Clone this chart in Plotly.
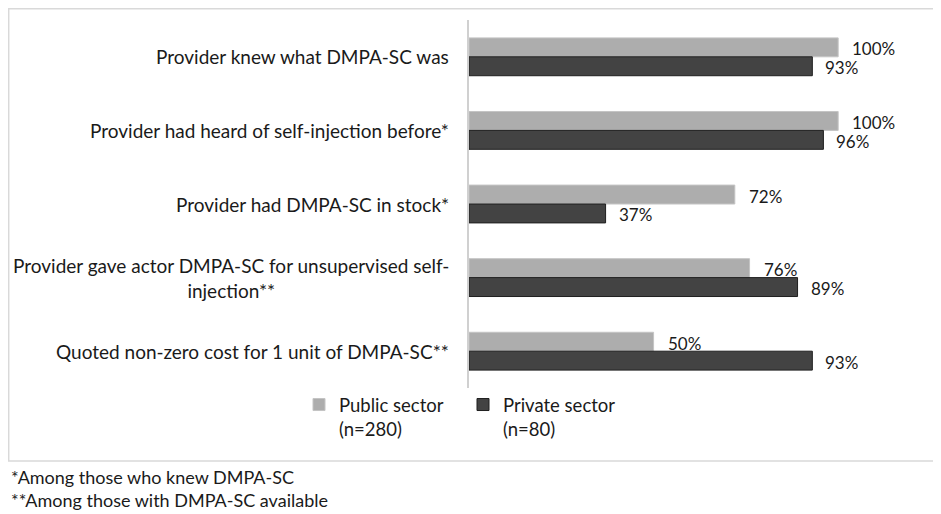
import plotly.graph_objects as go

categories = [
    "Provider knew what DMPA-SC was",
    "Provider had heard of self-injection before*",
    "Provider had DMPA-SC in stock*",
    "Provider gave actor DMPA-SC for unsupervised self-<br>injection**",
    "Quoted non-zero cost for 1 unit of DMPA-SC**",
]
public_vals = [100, 100, 72, 76, 50]
private_vals = [93, 96, 37, 89, 93]
series_names = ["Public sector<br>(n=280)", "Private sector<br>(n=80)"]
footnotes = ["*Among those who knew DMPA-SC", "**Among those with DMPA-SC available"]

# the page shows the figure with the browser's 8px body margin, so work in
# reference pixels and subtract that offset
OFF = 8
W, H = 941 - OFF, 514 - OFF
L, T = 469 - OFF, 20 - OFF
PLOT_RIGHT, PLOT_BOTTOM = 912 - OFF, 388 - OFF
R, B = W - PLOT_RIGHT, H - PLOT_BOTTOM
PW, PH = W - L - R, H - T - B
FONT = "Lato"
BARGAP = 0.486


def px_x(px):
    return (px - OFF - L) / PW


def px_y(py):
    return (H - B - (py - OFF)) / PH


fig = go.Figure()
fig.add_trace(go.Bar(y=categories, x=public_vals, orientation="h", name=series_names[0],
                     marker=dict(color="#adadad", line=dict(color="#c4c4c4", width=1))))
fig.add_trace(go.Bar(y=categories, x=private_vals, orientation="h", name=series_names[1],
                     marker=dict(color="#434343", line=dict(color="#1f1f1f", width=1))))

# bar value labels, just past each bar end
step = PH / len(categories)
half = step * (1 - BARGAP) / 4
for cat, pv, qv in zip(categories, public_vals, private_vals):
    fig.add_annotation(x=pv, y=cat, text=f"{pv}%", xanchor="left", xshift=12, yshift=half - 1.5,
                       showarrow=False, font=dict(size=17, color="#1a1a1a", family=FONT))
    fig.add_annotation(x=qv, y=cat, text=f"{qv}%", xanchor="left", xshift=11, yshift=-half - 1.5,
                       showarrow=False, font=dict(size=17, color="#1a1a1a", family=FONT))

# category labels (centered multi-line like the original)
for cat in categories:
    fig.add_annotation(x=0, xref="paper", y=cat, text=cat, xanchor="right", xshift=-18,
                       align="center", showarrow=False,
                       font=dict(size=19, color="#1a1a1a", family=FONT))

fig.add_annotation(x=px_x(OFF + 1), xref="paper", y=px_y(488), yref="paper",
                   text="<br>".join(footnotes), align="left",
                   xanchor="left", yanchor="middle", showarrow=False,
                   font=dict(size=18, color="#1a1a1a", family=FONT))

# outer frame
fig.add_shape(type="rect", xref="paper", yref="paper", x0=px_x(OFF + 0.7), x1=px_x(935),
              y0=px_y(461), y1=px_y(OFF + 0.7), line=dict(color="#d9d9d9", width=1.5),
              layer="below")

fig.update_layout(
    width=W, height=H, barmode="group", bargap=BARGAP, bargroupgap=0,
    margin=dict(l=L, r=R, t=T, b=B, autoexpand=False),
    plot_bgcolor="white", paper_bgcolor="white",
    font=dict(family=FONT, size=17, color="#1a1a1a"),
    showlegend=True,
    legend=dict(orientation="h", xref="paper", yref="paper",
                x=px_x(299), y=px_y(386), xanchor="left", yanchor="top",
                valign="top", entrywidth=119, entrywidthmode="pixels", tracegroupgap=0,
                font=dict(size=18.5, family=FONT, color="#1a1a1a"), bgcolor="rgba(0,0,0,0)"),
)
fig.update_xaxes(range=[0, 120], visible=False, showgrid=False)
fig.update_yaxes(autorange="reversed", showticklabels=False, ticks="", showgrid=False,
                 showline=True, linecolor="#d0d0d0", linewidth=1.5)

fig.write_html("out.html")
